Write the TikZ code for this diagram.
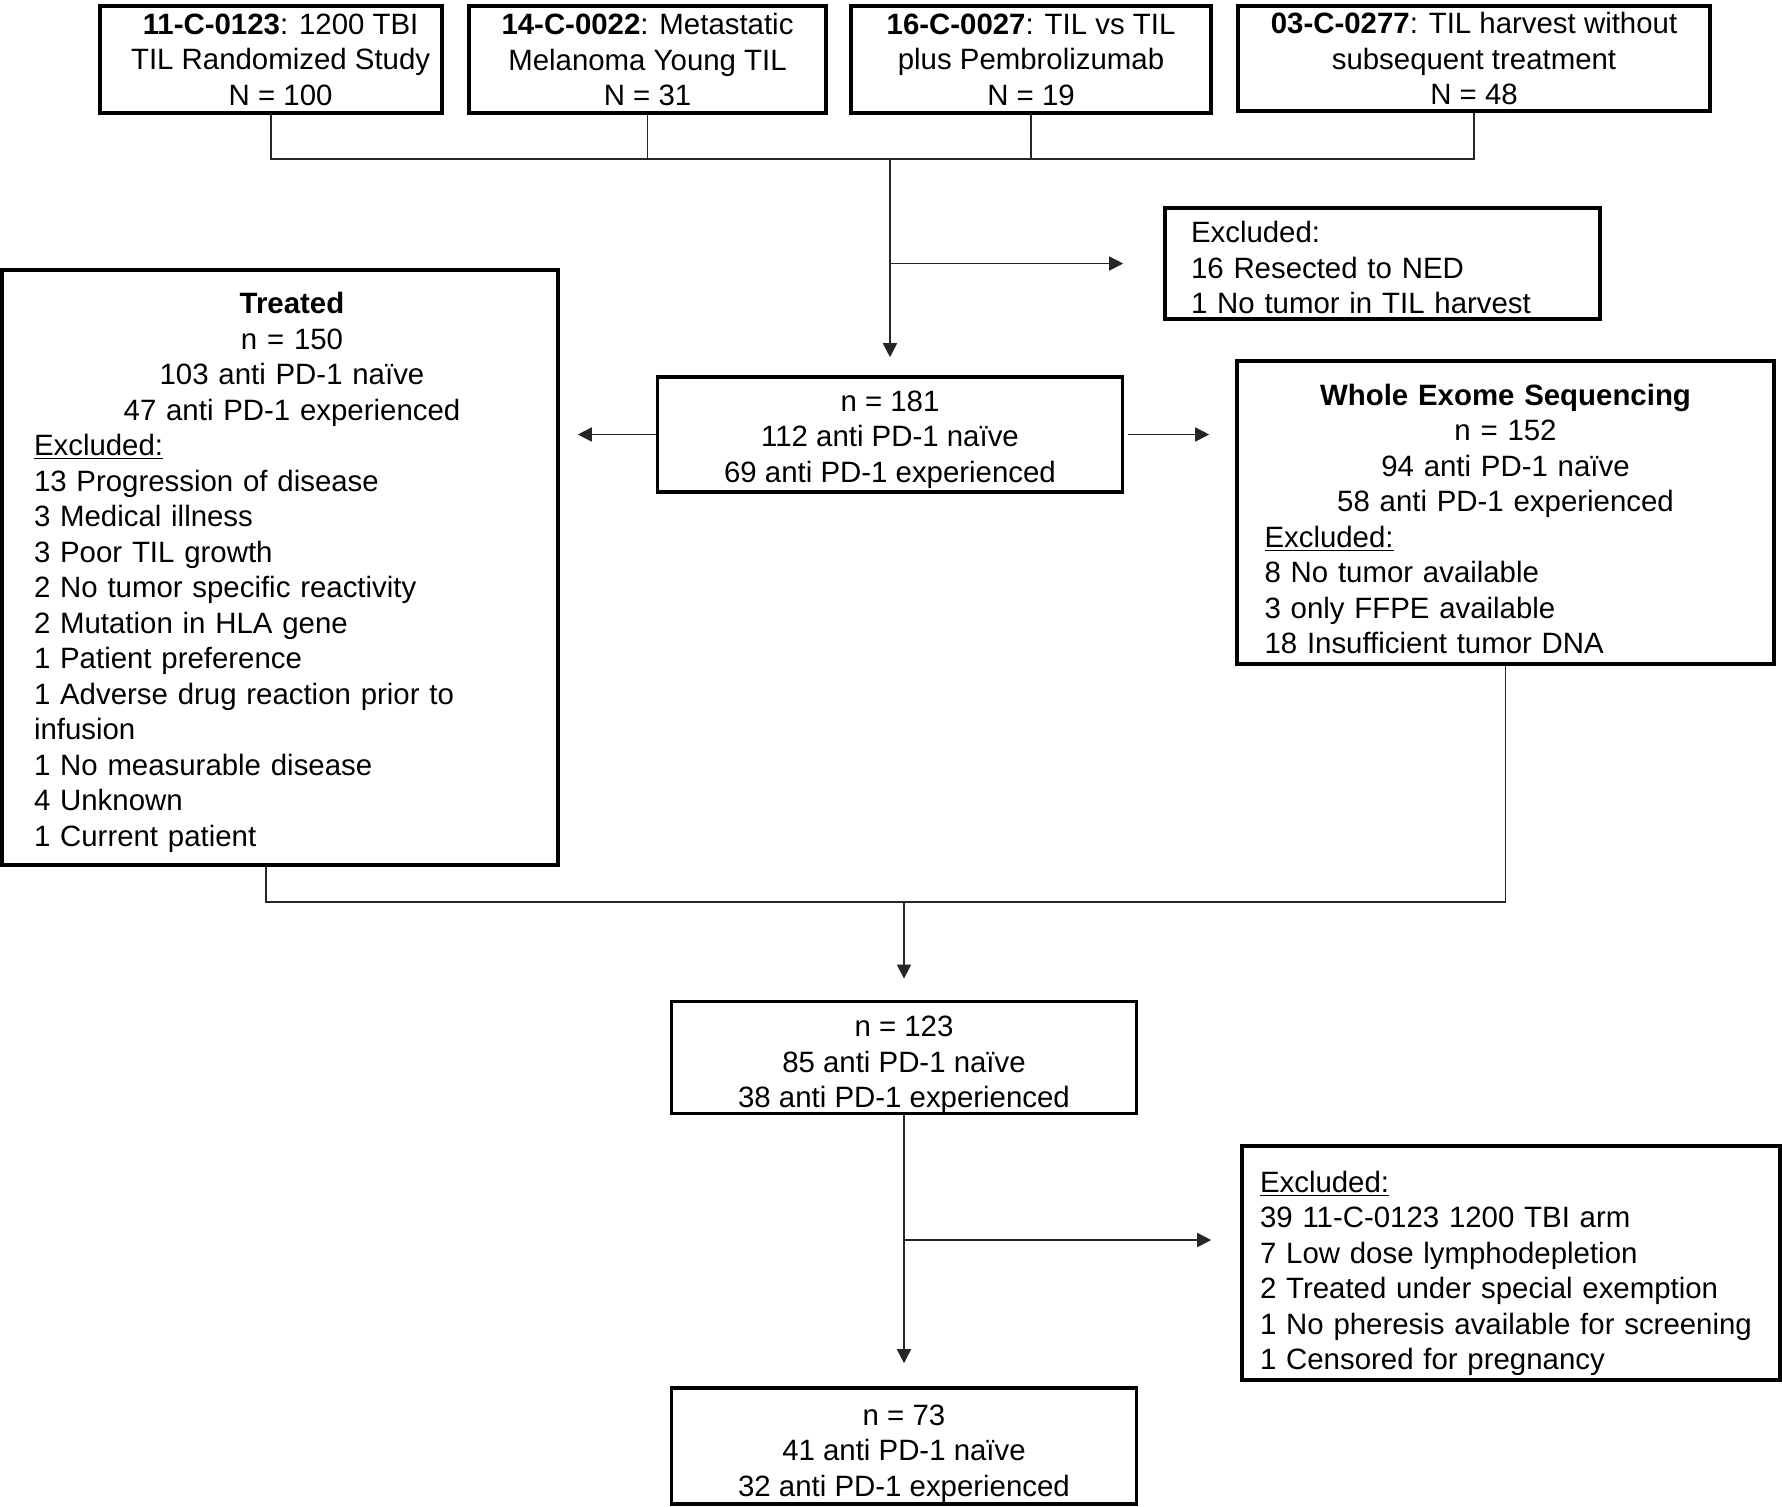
\documentclass[tikz,border=0pt]{standalone}
\usepackage{fontspec}
\setmainfont{Liberation Sans}
\usetikzlibrary{arrows.meta}
\newcommand\myfs{\fontsize{14.7pt}{17.75pt}\selectfont}
\newcommand\tstrut[1]{\rule{0pt}{#1}}
\begin{document}
\begin{tikzpicture}[x=0.5pt,y=-0.5pt,
  box/.style={draw=black, line width=1.8pt, inner sep=0pt, font=\myfs},
  cbox/.style={box, align=center},
  txt/.style={inner sep=0pt, font=\myfs},
  conn/.style={draw=black!85, line width=0.8pt},
  arr/.style={-{Triangle[length=7pt,width=7pt]}},
]
\useasboundingbox (0,0) rectangle (1782,1506);

% top study boxes
\node[cbox, minimum width=171pt, minimum height=53.5pt] (b1) at (271,59.5)
  {\hspace*{9.6pt}\textbf{11-C-0123}: 1200 TBI\\\hspace*{9.6pt}TIL Randomized Study\\\hspace*{9.6pt}N = 100};
\node[cbox, minimum width=178.5pt, minimum height=53.5pt] (b2) at (647.5,59.5)
  {\textbf{14-C-0022}: Metastatic\\Melanoma Young TIL\\N = 31};
\node[cbox, minimum width=180pt, minimum height=53.5pt] (b3) at (1031,59.5)
  {\textbf{16-C-0027}: TIL vs TIL\\plus Pembrolizumab\\N = 19};
\node[cbox, minimum width=236pt, minimum height=52.5pt] (b4) at (1474,58.5)
  {\textbf{03-C-0277}: TIL harvest without\\subsequent treatment\\N = 48};

% first exclusion
\node[box, minimum width=217.5pt, minimum height=55.5pt, text width=191.5pt, align=left] (excl1) at (1382.5,263.5)
  {\tstrut{14.8pt}Excluded:\\16 Resected to NED\\1 No tumor in TIL harvest};

% n = 181
\node[cbox, minimum width=232.5pt, minimum height=57.5pt] (b181) at (890,434.5)
  {\tstrut{15.4pt}n = 181\\112 anti PD-1 naïve\\69 anti PD-1 experienced};

% treated
\node[box, minimum width=278pt, minimum height=297.5pt] (treated) at (280,567.5) {};
\node[txt, text width=258pt] (treatedtxt) at (292,567.5)
  {\centering\tstrut{15.4pt}\textbf{Treated}\\n = 150\\103 anti PD-1 naïve\\47 anti PD-1 experienced\par
   \raggedright\underline{Excluded:}\\13 Progression of disease\\3 Medical illness\\3 Poor TIL growth\\
   2 No tumor specific reactivity\\2 Mutation in HLA gene\\1 Patient preference\\
   1 Adverse drug reaction prior to\\infusion\\1 No measurable disease\\4 Unknown\\1 Current patient\par};

% whole exome sequencing
\node[box, minimum width=268.5pt, minimum height=151.5pt, text width=241pt] (wes) at (1505.5,512.5)
  {\centering\tstrut{17pt}\textbf{Whole Exome Sequencing}\\n = 152\\94 anti PD-1 naïve\\58 anti PD-1 experienced\par
   \raggedright\underline{Excluded:}\\8 No tumor available\\3 only FFPE available\\18 Insufficient tumor DNA\par};

% n = 123
\node[cbox, minimum width=232.5pt, minimum height=55.5pt] (b123) at (904,1057.5)
  {\tstrut{17.6pt}n = 123\\85 anti PD-1 naïve\\38 anti PD-1 experienced};

% last exclusion
\node[box, minimum width=269pt, minimum height=117pt, text width=251pt, align=left] (excl3) at (1511,1263)
  {\tstrut{20.8pt}\underline{Excluded:}\\39 11-C-0123 1200 TBI arm\\7 Low dose lymphodepletion\\2 Treated under special exemption\\1 No pheresis available for screening\\1 Censored for pregnancy};

% n = 73
\node[cbox, minimum width=232.5pt, minimum height=58pt] (b73) at (904,1446)
  {\tstrut{17.6pt}n = 73\\41 anti PD-1 naïve\\32 anti PD-1 experienced};

% junction points
\coordinate (m1) at (890,159);
\coordinate (m2) at (904,902);
\coordinate (m3) at (904,1240);

% connectors
\draw[conn] (b1.south) |- (b4.south |- m1) -- (b4.south);
\draw[conn] (b2.south) -- (b2.south |- m1);
\draw[conn] (b3.south) -- (b3.south |- m1);
\draw[conn, arr, shorten >=9pt] (m1) -- (b181.north);
\draw[conn, arr, shorten >=20pt] (m1 |- excl1.west) -- (excl1.west);
\draw[conn, arr, shorten >=9pt] (b181.west) -- (b181.west -| treated.east);
\draw[conn, arr, shorten <=2pt, shorten >=13pt] (b181.east) -- (b181.east -| wes.west);
\draw[conn] ([xshift=-7pt]treated.south) |- (wes.south |- m2) -- (wes.south);
\draw[conn, arr, shorten >=10.5pt] (m2) -- (b123.north);
\draw[conn, arr, shorten >=11.5pt] (b123.south) -- (b73.north);
\draw[conn, arr, shorten >=14.5pt] (m3) -- (m3 -| excl3.west);
\end{tikzpicture}
\end{document}
